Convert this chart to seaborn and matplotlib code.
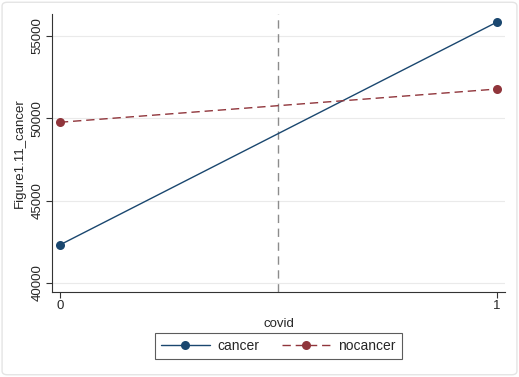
import pandas as pd
import numpy as np
import matplotlib
matplotlib.use("Agg")
import matplotlib.pyplot as plt
import seaborn as sns
from matplotlib.patches import FancyBboxPatch

covid = [0, 1]
cancer = [42310, 55850]
nocancer = [49760, 51780]
yticks = [40000, 45000, 50000, 55000]

df = pd.DataFrame({
    "covid": covid * 2,
    "value": cancer + nocancer,
    "group": ["cancer"] * 2 + ["nocancer"] * 2,
})

sns.set_theme(style="white")
plt.rcParams["font.family"] = ["Liberation Sans", "DejaVu Sans"]

fig = plt.figure(figsize=(5.19, 3.77), dpi=100)
ax = fig.add_axes([0.1002, 0.2255, 0.8728, 0.7375])

# cadre gris clair autour de la figure (style Stata)
fig.patches.append(FancyBboxPatch((0.004, 0.006), 0.992, 0.988, boxstyle="round,pad=0,rounding_size=0.01",
                                  transform=fig.transFigure, fill=False, edgecolor="#e4e4e4", lw=1))

for y in yticks:
    ax.axhline(y, color="#eaeaea", lw=0.8, zorder=0)
ax.axvline(0.5, color="#8c8c8c", lw=1, ls=(0, (6, 4)), zorder=1)

palette = {"cancer": "#1a476f", "nocancer": "#90353b"}
sns.lineplot(data=df[df.group == "cancer"], x="covid", y="value", color=palette["cancer"],
             lw=1, marker="o", markersize=6.5, markeredgewidth=0, ax=ax, label="cancer")
sns.lineplot(data=df[df.group == "nocancer"], x="covid", y="value", color=palette["nocancer"],
             lw=1, ls=(0, (6, 3.5)), marker="o", markersize=6.5, markeredgewidth=0, ax=ax, label="nocancer")

ax.set_xlim(-0.018, 1.018)
ax.set_ylim(39450, 56340)
ax.set_xticks(covid)
ax.set_yticks(yticks)
ax.set_yticklabels([str(y) for y in yticks], rotation=90, va="center")
ax.tick_params(axis="both", direction="out", length=4, width=0.8, color="#333333", labelsize=9.5, pad=2,
               left=True, bottom=True)
for side in ["top", "right"]:
    ax.spines[side].set_visible(False)
for side in ["left", "bottom"]:
    ax.spines[side].set_color("#333333")
    ax.spines[side].set_linewidth(0.8)

ax.set_xlabel("covid", fontsize=9.5, labelpad=4)
ax.set_ylabel("Figure1.11_cancer", fontsize=9.5, labelpad=4)

leg = ax.legend(loc="center", bbox_to_anchor=(0.536, 0.082), bbox_transform=fig.transFigure, ncol=2,
                frameon=True, fancybox=False, fontsize=10, handlelength=3.5, columnspacing=1.6,
                borderpad=0.45, borderaxespad=0, handletextpad=0.55)
leg.get_frame().set_edgecolor("#333333")
leg.get_frame().set_linewidth(0.8)

fig.savefig("out.png", dpi=100)
